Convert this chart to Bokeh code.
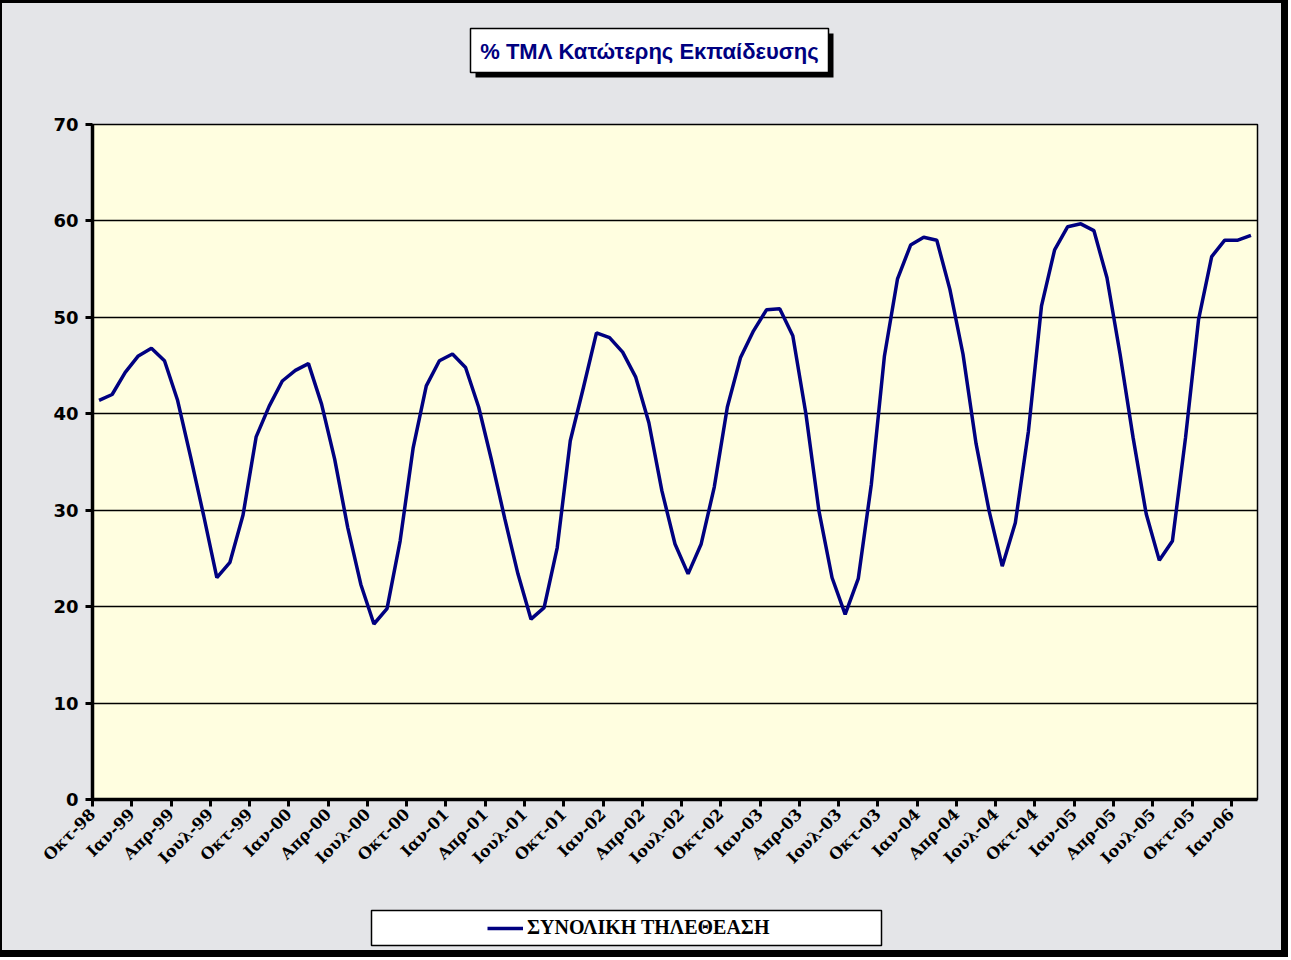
import math
from bokeh.plotting import figure
from bokeh.layouts import column
from bokeh.models import (Range1d, FixedTicker, BoxAnnotation, Label, Legend,
                          LegendItem, ColumnDataSource)
from bokeh.embed import file_html
from bokeh.resources import INLINE

# ---- data -------------------------------------------------------------
month_names = ["Ιαν", "Φεβ", "Μαρ", "Απρ", "Μαϊ", "Ιουν",
               "Ιουλ", "Αυγ", "Σεπ", "Οκτ", "Νοε", "Δεκ"]
start_year, start_month = 1998, 10   # Οκτ-98
n_months = 89                        # Οκτ-98 ... Φεβ-06

values = [41.4, 42.0, 44.3, 46.0, 46.8, 45.5, 41.4, 35.5, 29.4, 23.0,
          24.6, 29.5, 37.6, 40.8, 43.4, 44.5, 45.2, 41.0, 35.3, 28.2,
          22.3, 18.2, 19.8, 26.8, 36.5, 42.9, 45.5, 46.2, 44.8, 40.7,
          35.1, 29.1, 23.4, 18.7, 19.9, 26.1, 37.2, 42.7, 48.4, 47.9,
          46.4, 43.8, 39.1, 32.0, 26.5, 23.4, 26.5, 32.4, 40.7, 45.8,
          48.6, 50.8, 50.9, 48.1, 40.0, 29.9, 23.0, 19.2, 22.9, 32.7,
          46.0, 54.0, 57.5, 58.3, 58.0, 52.9, 46.2, 36.9, 29.9, 24.2,
          28.7, 38.2, 51.2, 57.0, 59.4, 59.7, 59.0, 54.1, 46.2, 37.5,
          29.6, 24.8, 26.8, 37.5, 49.8, 56.3, 58.0, 58.0, 58.5]

y_ticks = [0, 10, 20, 30, 40, 50, 60, 70]
title_text = "% ΤΜΛ Κατώτερης Εκπαίδευσης"
series_name = "ΣΥΝΟΛΙΚΗ ΤΗΛΕΘΕΑΣΗ"

categories = []
for k in range(n_months):
    m = (start_month - 1 + k) % 12
    yr = start_year + (start_month - 1 + k) // 12
    categories.append(f"{month_names[m]}-{yr % 100:02d}")

xs = [k + 0.5 for k in range(n_months)]
tick_pos = list(range(0, n_months, 3))
tick_labels = {t: categories[t] for t in tick_pos}

# ---- layout geometry (page pixels) -----------------------------------
BG = "#E4E5E8"
NAVY = "#000080"
OX, OY = 2, 3            # content origin inside the black chart border
CW = 1279                # content width  (x 2 .. 1281)
Y_MAIN, Y_LEG, Y_END = 90, 895, 950
FL, FT, FR, FB = 92, 124, 1257, 799   # plot-area edges on the page

src = ColumnDataSource(data=dict(x=xs, y=values, cat=categories))


def strip_fig(y0, y1):
    """A figure for the free annotations above / below the chart.
    In the column its frame is aligned with the main plot's frame."""
    f = figure(width=CW, height=y1 - y0, output_backend="svg",
               toolbar_location=None, x_axis_location=None,
               y_axis_location=None, min_border=0,
               x_range=Range1d(0, 1), y_range=Range1d(0, 1),
               background_fill_color=BG, border_fill_color=BG)
    f.outline_line_color = None
    f.grid.visible = False
    return f


def sbox(y1, l, t, r_, b, **kw):
    # page coords -> screen units relative to the (aligned) strip frame
    return BoxAnnotation(left=l - FL, right=r_ - FL, top=y1 - t, bottom=y1 - b,
                         left_units="screen", right_units="screen",
                         top_units="screen", bottom_units="screen", **kw)


# ---- title strip -------------------------------------------------------
pt = strip_fig(OY, Y_MAIN)
pt.add_layout(sbox(Y_MAIN, 475, 33, 833, 77, fill_color="black", fill_alpha=1,
                   line_color=None))
pt.add_layout(sbox(Y_MAIN, 470, 28, 828, 72, fill_color="white", fill_alpha=1,
                   line_color="black", line_alpha=1, line_width=1.5))
pt.add_layout(Label(x=649 - FL, y=Y_MAIN - 51, x_units="screen", y_units="screen",
                    text=title_text, text_align="center", text_baseline="middle",
                    text_font="Liberation Sans", text_font_style="bold",
                    text_font_size="22px", text_color=NAVY))

# ---- main chart --------------------------------------------------------
p = figure(width=CW, height=Y_LEG - Y_MAIN, output_backend="svg",
           toolbar_location=None,
           x_range=Range1d(0, n_months), y_range=Range1d(0, 70),
           min_border_left=FL - OX, min_border_right=OX + CW - FR,
           min_border_top=FT - Y_MAIN, min_border_bottom=Y_LEG - FB,
           background_fill_color="#FFFEE0", border_fill_color=BG)

p.outline_line_color = "black"
p.outline_line_width = 1.5

p.xgrid.visible = False
p.ygrid.grid_line_color = "black"
p.ygrid.grid_line_width = 1.5
p.ygrid.ticker = FixedTicker(ticks=y_ticks)

p.yaxis.ticker = FixedTicker(ticks=y_ticks)
p.yaxis.axis_line_width = 3.5
p.yaxis.axis_line_color = "black"
p.yaxis.major_tick_line_width = 3
p.yaxis.major_tick_out = 7
p.yaxis.major_tick_in = 0
p.yaxis.minor_tick_line_color = None
p.yaxis.major_label_text_font = "DejaVu Sans"
p.yaxis.major_label_text_font_style = "bold"
p.yaxis.major_label_text_font_size = "18px"
p.yaxis.major_label_text_color = "black"
p.yaxis.major_label_standoff = 7

p.xaxis.ticker = FixedTicker(ticks=tick_pos)
p.xaxis.major_label_overrides = tick_labels
p.xaxis.major_label_orientation = math.pi / 4
p.xaxis.axis_line_width = 3.5
p.xaxis.axis_line_color = "black"
p.xaxis.major_tick_line_width = 3
p.xaxis.major_tick_out = 7
p.xaxis.major_tick_in = 0
p.xaxis.minor_tick_line_color = None
p.xaxis.major_label_text_font = "DejaVu Serif"
p.xaxis.major_label_text_font_style = "bold"
p.xaxis.major_label_text_font_size = "16px"
p.xaxis.major_label_text_color = "black"
p.xaxis.major_label_standoff = 5

p.line("x", "y", source=src, line_color=NAVY, line_width=3.5)

# ---- legend strip ------------------------------------------------------
pl = strip_fig(Y_LEG, Y_END)
pl.add_layout(sbox(Y_END, 371, 910, 881, 945, fill_color="white", fill_alpha=1,
                   line_color="black", line_alpha=1, line_width=1.5))
# same series, styled like the chart line; lies outside this strip's ranges,
# it only supplies the legend's line sample
lr = pl.line("x", "y", source=src, line_color=NAVY, line_width=3.5)
legend = Legend(items=[LegendItem(label=series_name, renderers=[lr])],
                location=(487 - FL, Y_END - 939),
                background_fill_alpha=0, border_line_color=None,
                padding=0, margin=0, glyph_width=36, label_standoff=4,
                label_text_font="Liberation Serif", label_text_font_style="bold",
                label_text_font_size="20px", label_text_color="black")
pl.add_layout(legend, "center")

layout = column(pt, p, pl, spacing=0,
                styles={"background-color": BG,
                        "border-left": "2px solid black",
                        "border-top": "3px solid black",
                        "border-right": "7px solid black",
                        "border-bottom": "7px solid black"})

open("out.html", "w").write(file_html(layout, INLINE))
